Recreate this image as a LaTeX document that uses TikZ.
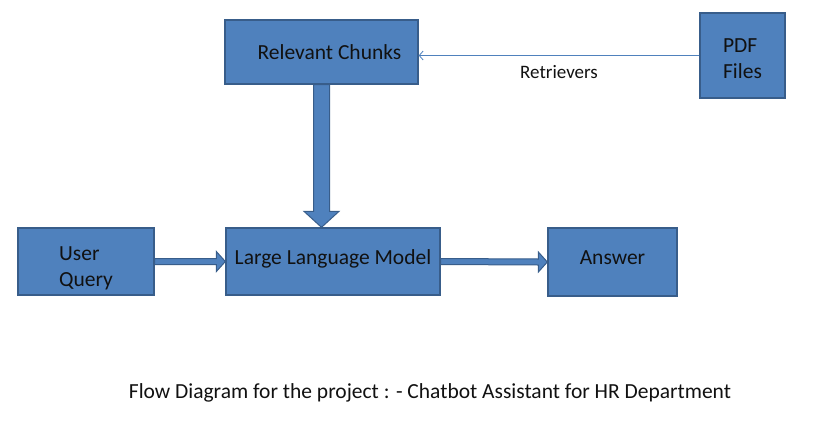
\documentclass[tikz,border=0pt]{standalone}
\usepackage{fontspec}
\setmainfont{Carlito}
\usetikzlibrary{calc,arrows.meta}
\definecolor{boxfill}{HTML}{4F81BD}
\definecolor{boxline}{HTML}{385D8A}
\definecolor{txt}{HTML}{111111}

\begin{document}
\begin{tikzpicture}[x=1pt, y=-1pt,
    box/.style={draw=boxline, line width=1.3pt, fill=boxfill, text=txt, inner sep=0pt,
      font=\fontsize{21.5}{26}\selectfont, align=left},
    blockarrow/.style={draw=boxline, line width=1pt, fill=boxfill, line join=miter},
    thinarrow/.style={draw=boxfill, line width=0.8pt, -{Straight Barb[length=4pt, width=9pt]}}]
  \useasboundingbox (0, 0) rectangle (828, 437);
  \node[box, minimum width=193, minimum height=64] (chunks) at (321.5, 52) {\hspace*{16pt}Relevant Chunks};
  \node[box, minimum width=85, minimum height=85] (pdf) at (742.5, 55.5) {\rule{0pt}{20pt}PDF\\Files};
  \node[box, minimum width=136, minimum height=67] (query) at (86, 261.5) {\rule{0pt}{28pt}User\\Query};
  \node[box, minimum width=214, minimum height=67] (llm) at (333, 261.5) {\raisebox{3pt}[\height][\depth]{Large Language Model}};
  \node[box, minimum width=129, minimum height=68] (answer) at (612.5, 262) {\raisebox{4pt}[\height][\depth]{Answer}};
  % retrievers link
  \draw[thinarrow] (pdf.west) -- (pdf.west -| chunks.east)
    node[midway, below=6pt, text=txt, font=\fontsize{19}{22}\selectfont] (ret) {Retrievers};
  % block arrows
  \coordinate (tip) at (chunks.south |- llm.north);
  \draw[blockarrow] ($(chunks.south)+(-8,0)$) -- ($(tip)+(-8,-16)$) -- ($(tip)+(-17.5,-16)$)
    -- (tip) -- ($(tip)+(17.5,-16)$) -- ($(tip)+(8,-16)$) -- ($(chunks.south)+(8,0)$) -- cycle;
  \draw[blockarrow] ($(query.east)+(0,-3)$) -- ($(llm.west)+(-9,-3)$) -- ($(llm.west)+(-9,-10)$)
    -- (llm.west) -- ($(llm.west)+(-9,10)$) -- ($(llm.west)+(-9,3)$) -- ($(query.east)+(0,3)$) -- cycle;
  \draw[blockarrow] ($(llm.east)+(0,-3)$) -- ($(answer.west)+(-9,-3)$) -- ($(answer.west)+(-9,-10)$)
    -- (answer.west) -- ($(answer.west)+(-9,10)$) -- ($(answer.west)+(-9,3)$) -- ($(llm.east)+(0,3)$) -- cycle;
  \node[text=txt, font=\fontsize{21.5}{24}\selectfont] (caption) at (430, 393)
    {Flow Diagram for the project : - Chatbot Assistant for HR Department};
\end{tikzpicture}
\end{document}
